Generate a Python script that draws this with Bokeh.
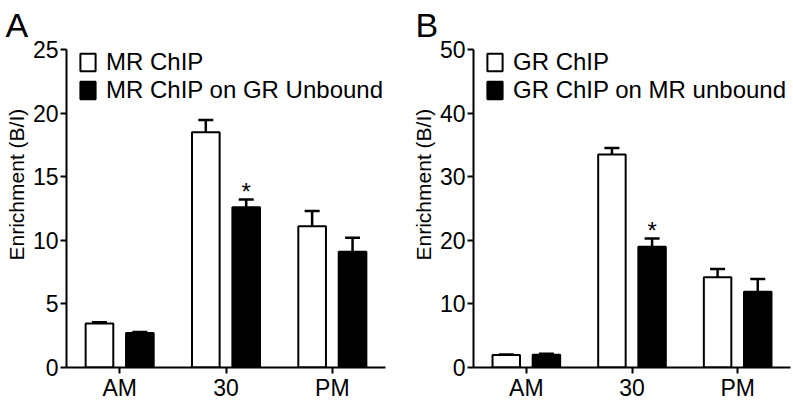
from bokeh.plotting import figure
from bokeh.models import (FactorRange, Range1d, FixedTicker, Whisker, TeeHead,
                          Legend, LegendItem, Title, ColumnDataSource)
from bokeh.transform import dodge
from bokeh.layouts import row
from bokeh.embed import file_html
from bokeh.resources import INLINE
from bokeh.core.properties import value

# ---------------- data ----------------
categories = ["AM", "30", "PM"]

a_series = ["MR ChIP", "MR ChIP on GR Unbound"]
a_mr = [3.45, 18.5, 11.1]
a_mr_err = [0.10, 0.95, 1.2]
a_unbound = [2.72, 12.6, 9.1]
a_unbound_err = [0.07, 0.6, 1.1]
a_sig = ["", "*", ""]
a_yticks = [0, 5, 10, 15, 20, 25]

b_series = ["GR ChIP", "GR ChIP on MR unbound"]
b_gr = [1.95, 33.5, 14.2]
b_gr_err = [0.1, 1.0, 1.3]
b_unbound = [2.0, 19.0, 11.9]
b_unbound_err = [0.15, 1.3, 2.0]
b_sig = ["", "*", ""]
b_yticks = [0, 10, 20, 30, 40, 50]

y_label = "Enrichment (B/I)"

FONT = "Liberation Sans"
FRAME_H = 318
TOP = 49


def panel(letter, letter_offset, series, v1, e1, v2, e2, sig, yticks, frame_w, border_r):
    ymax = yticks[-1]
    p = figure(x_range=FactorRange(*categories, range_padding=0, factor_padding=0),
               y_range=Range1d(0, ymax),
               frame_width=frame_w, frame_height=FRAME_H,
               min_border_left=66, min_border_right=border_r,
               min_border_top=TOP, min_border_bottom=0,
               output_backend="svg", toolbar_location=None,
               background_fill_color="white", border_fill_color="white")
    p.outline_line_color = None
    p.grid.visible = False

    # panel letter as the figure title
    p.title.text = letter
    p.title.align = "left"
    p.title.vertical_align = "top"
    p.title.offset = letter_offset
    p.title.standoff = 8
    p.title.text_font = FONT
    p.title.text_font_size = "34px"
    p.title.text_font_style = "normal"
    p.title.text_color = "black"

    src = ColumnDataSource(dict(
        cat=categories, v1=v1, u1=[v + e for v, e in zip(v1, e1)],
        v2=v2, u2=[v + e for v, e in zip(v2, e2)], sig=sig))

    off = 0.19
    bw = 0.26
    r1 = p.vbar(x=dodge("cat", -off, range=p.x_range), top="v1", bottom=0, width=bw,
                fill_color="white", line_color="black", line_width=2, source=src)
    r2 = p.vbar(x=dodge("cat", off, range=p.x_range), top="v2", bottom=0, width=bw,
                fill_color="black", line_color="black", line_width=2, source=src)

    for xo, lo, up in ((-off, "v1", "u1"), (off, "v2", "u2")):
        w = Whisker(base=dodge("cat", xo, range=p.x_range), lower=lo, upper=up,
                    source=src, dimension="height", line_color="black", line_width=2.5,
                    upper_head=TeeHead(size=15, line_color="black", line_width=2.5),
                    lower_head=None)
        p.add_layout(w)

    p.text(x=dodge("cat", off, range=p.x_range), y="u2", text="sig", source=src,
           text_align="center", text_baseline="alphabetic", text_font_size="24px",
           text_font=value(FONT), text_color="black", y_offset=-8)

    # axes
    for ax in (p.xaxis[0], p.yaxis[0]):
        ax.axis_line_width = 2
        ax.axis_line_color = "black"
        ax.major_tick_line_width = 2
        ax.major_tick_line_color = "black"
        ax.major_tick_out = 6
        ax.major_tick_in = 0
        ax.minor_tick_line_color = None
        ax.major_label_text_font = FONT
        ax.major_label_text_color = "black"
        ax.major_label_text_font_size = "23px"
    p.yaxis[0].ticker = FixedTicker(ticks=yticks)
    p.yaxis[0].major_label_standoff = 2
    p.xaxis[0].major_label_standoff = 1

    # y axis label, placed above the frame centre like the original
    p.add_layout(Title(text=y_label, align="left", offset=107, standoff=4,
                       text_font=FONT, text_font_size="21px",
                       text_font_style="normal", text_color="black"), "left")

    legend = Legend(items=[LegendItem(label=series[0], renderers=[r1]),
                           LegendItem(label=series[1], renderers=[r2])],
                    location=(12, FRAME_H - 55),
                    glyph_width=19, glyph_height=22, label_standoff=9,
                    spacing=0, padding=0, margin=0,
                    label_text_font=FONT, label_text_font_size="24px",
                    label_text_color="black",
                    border_line_color=None, background_fill_alpha=0)
    p.add_layout(legend, "center")
    return p


pa = panel("A", -61, a_series, a_mr, a_mr_err, a_unbound, a_unbound_err, a_sig,
           a_yticks, 319, 22)
pb = panel("B", -58, b_series, b_gr, b_gr_err, b_unbound, b_unbound_err, b_sig,
           b_yticks, 317, 2)

layout = row(pa, pb)
open("out.html", "w").write(file_html(layout, INLINE))
